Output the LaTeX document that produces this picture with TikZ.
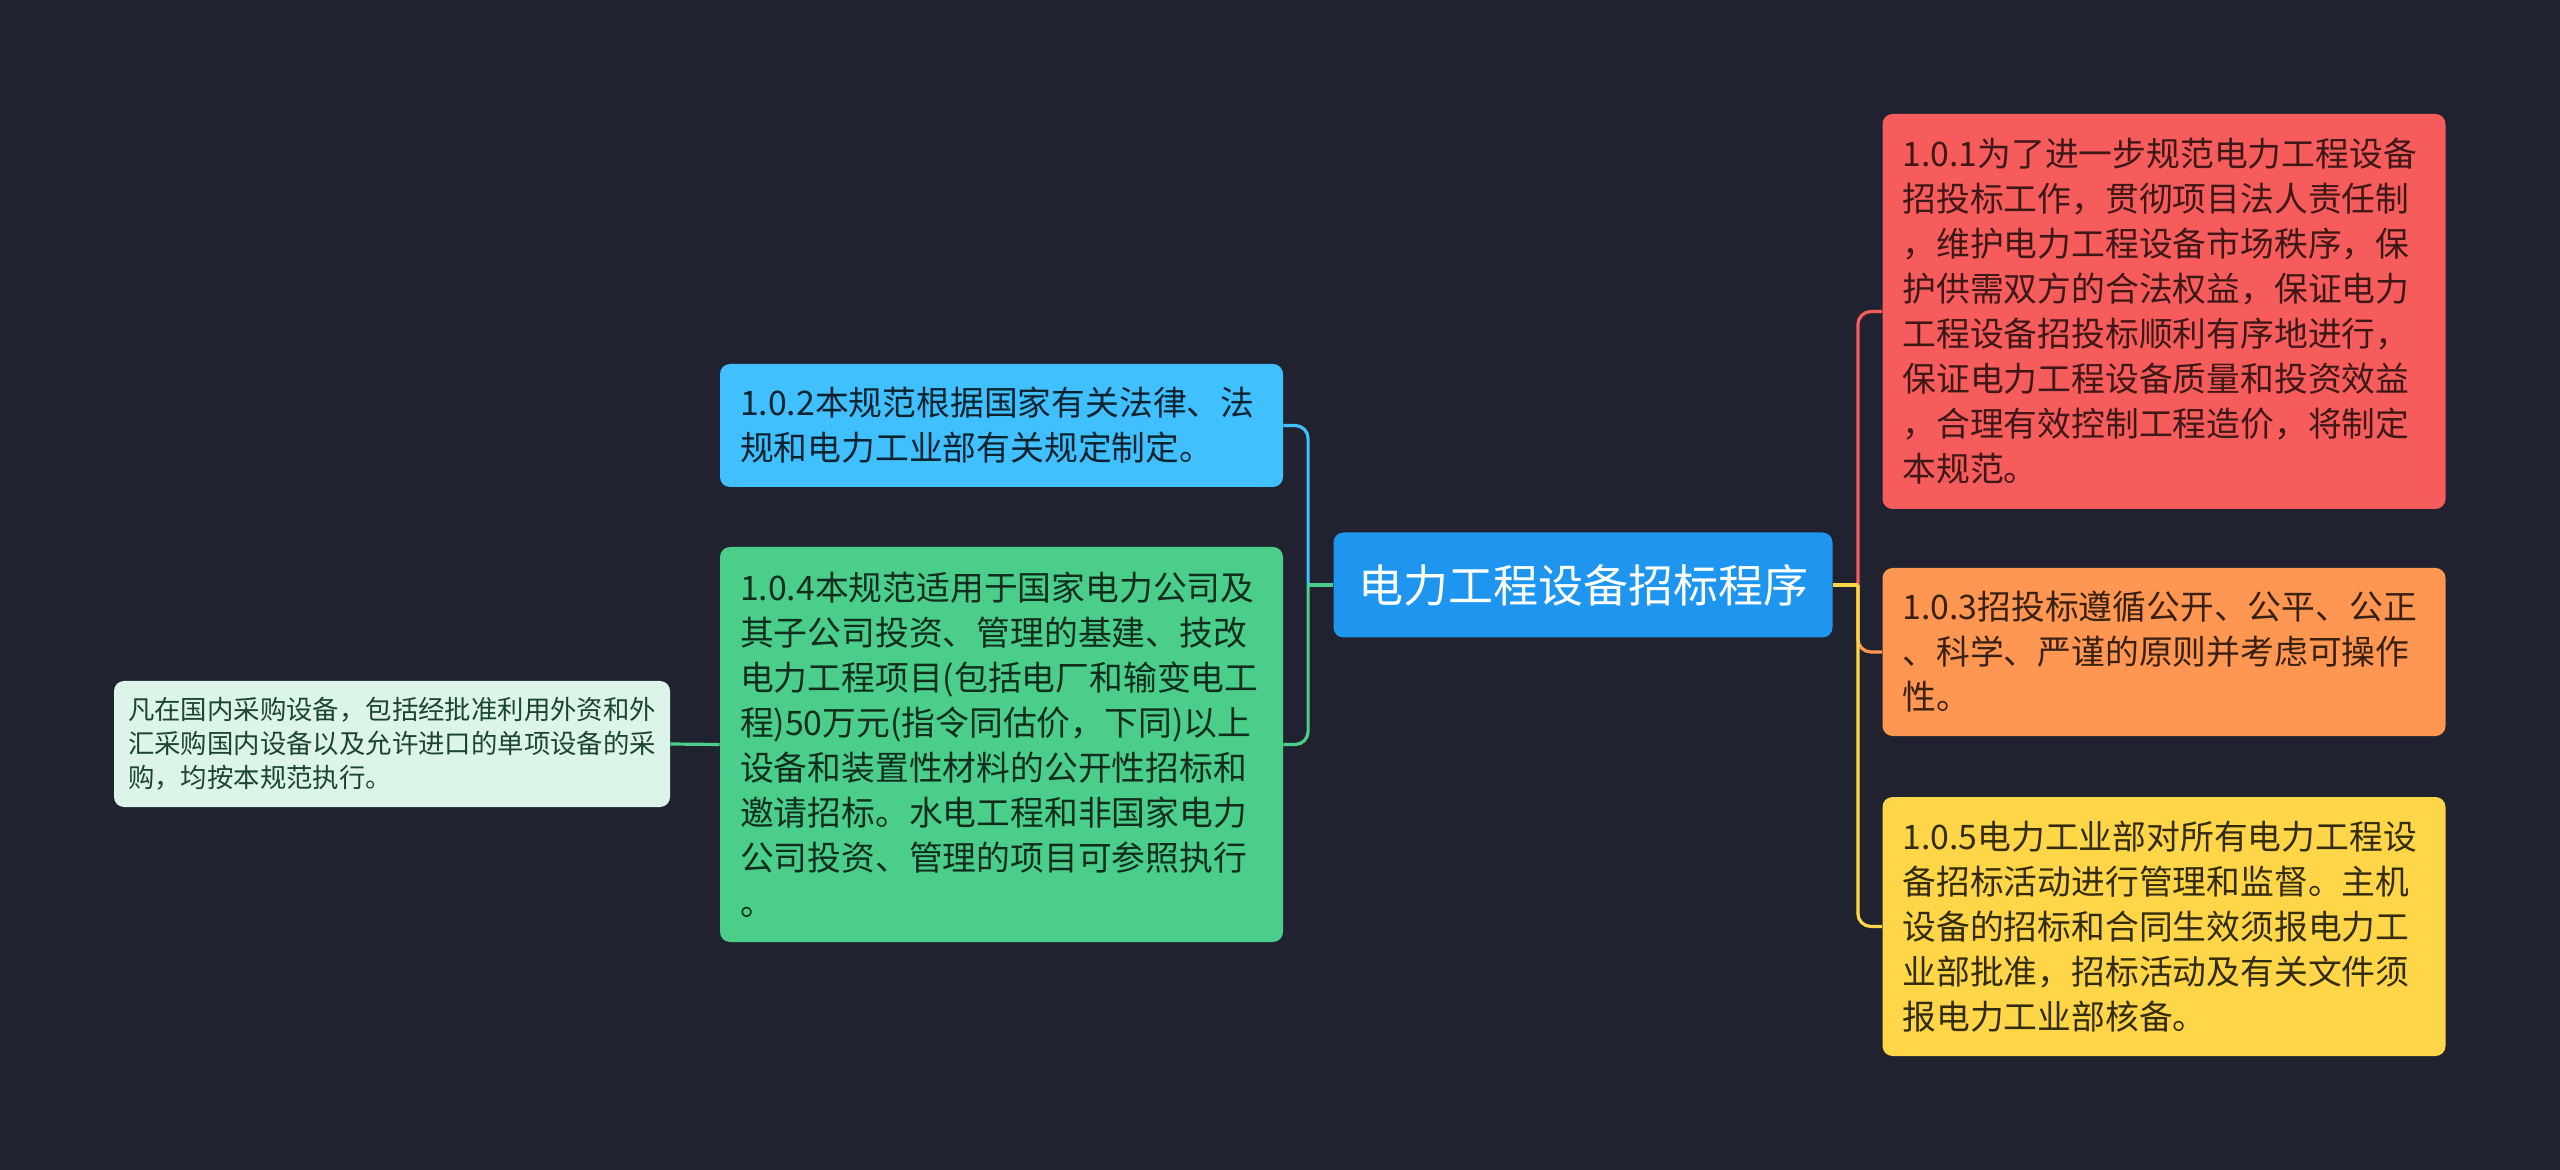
\documentclass[tikz,border=0pt]{standalone}
\usepackage{fontspec}
\setmainfont{Noto Sans CJK SC}
\definecolor{bg}{HTML}{20232F}
\definecolor{ccenter}{HTML}{1E96F0}
\definecolor{cblue}{HTML}{40C0FF}
\definecolor{cgreen}{HTML}{4ACE8A}
\definecolor{cleaf}{HTML}{DCF5E8}
\definecolor{cleaftext}{HTML}{1B462D}
\definecolor{cred}{HTML}{F75C5C}
\definecolor{corange}{HTML}{FF9652}
\definecolor{cyellow}{HTML}{FFD648}
\begin{document}
\begin{tikzpicture}[x=0.5pt,y=-0.5pt,
  box/.style={rounded corners=5pt, inner xsep=10pt, inner ysep=0pt, align=left,
    text width=261.5pt, minimum width=281.5pt,
    font=\fontsize{16.9pt}{22.5pt}\selectfont},
  centerbox/.style={rounded corners=5pt, inner sep=0pt, minimum width=249.5pt,
    minimum height=52.5pt, fill=ccenter, text=white,
    font=\fontsize{22.5pt}{27pt}\selectfont},
  leafbox/.style={rounded corners=5pt, inner sep=0pt, align=left,
    minimum width=278pt, minimum height=63pt, fill=cleaf, text=cleaftext,
    font=\fontsize{13.2pt}{17.1pt}\selectfont},
  link/.style={line width=1.6pt}]
\fill[bg] (0,0) rectangle (2560,1170);
\useasboundingbox (0,0) rectangle (2560,1170);

\node[centerbox] (c) at (1583,585) {电力工程设备招标程序};

\node[box, fill=cblue, text=cblue!18!black, minimum height=61.5pt] (n102) at (1001.5,425.5)
 {1.0.2本规范根据国家有关法律、法\\规和电力工业部有关规定制定。};

\node[box, fill=cgreen, text=cgreen!22!black, minimum height=197.5pt] (n104) at (1001.5,744.5)
 {1.0.4本规范适用于国家电力公司及\\其子公司投资、管理的基建、技改\\电力工程项目(包括电厂和输变电工\\程)50万元(指令同估价，下同)以上\\设备和装置性材料的公开性招标和\\邀请招标。水电工程和非国家电力\\公司投资、管理的项目可参照执行\\。};

\node[leafbox] (leaf) at (392,744)
 {凡在国内采购设备，包括经批准利用外资和外\\汇采购国内设备以及允许进口的单项设备的采\\购，均按本规范执行。};

\node[box, fill=cred, text=cred!25!black, minimum height=197.5pt] (n101) at (2164,311.5)
 {1.0.1为了进一步规范电力工程设备\\招投标工作，贯彻项目法人责任制\\，维护电力工程设备市场秩序，保\\护供需双方的合法权益，保证电力\\工程设备招投标顺利有序地进行，\\保证电力工程设备质量和投资效益\\，合理有效控制工程造价，将制定\\本规范。};

\node[box, fill=corange, text=corange!22!black, minimum height=84pt] (n103) at (2164,652)
 {1.0.3招投标遵循公开、公平、公正\\、科学、严谨的原则并考虑可操作\\性。};

\node[box, fill=cyellow, text=cyellow!20!black, minimum height=129.5pt] (n105) at (2164,926.5)
 {1.0.5电力工业部对所有电力工程设\\备招标活动进行管理和监督。主机\\设备的招标和合同生效须报电力工\\业部批准，招标活动及有关文件须\\报电力工业部核备。};

\coordinate (jl) at ([xshift=-12.5pt]c.west);
\coordinate (jr) at ([xshift=12.5pt]c.east);

% left connectors
\draw[link, cblue, rounded corners=6.5pt] (jl) |- (n102.east);
\draw[link, cblue] (c.west) -- (jl);
\draw[link, cgreen, rounded corners=6.5pt] (jl) |- (n104.east);
\draw[link, cgreen] (c.west) -- (jl);
\draw[link, cgreen] (n104.west) -- (leaf.east);

% right connectors
\draw[link, cred, rounded corners=6.5pt] (jr) |- (n101.west);
\draw[link, cred] (c.east) -- (jr);
\draw[link, corange, rounded corners=6.5pt] (jr) |- (n103.west);
\draw[link, corange] (c.east) -- (jr);
\draw[link, cyellow, rounded corners=6.5pt] (jr) |- (n105.west);
\draw[link, cyellow] (c.east) -- (jr);
\end{tikzpicture}
\end{document}
